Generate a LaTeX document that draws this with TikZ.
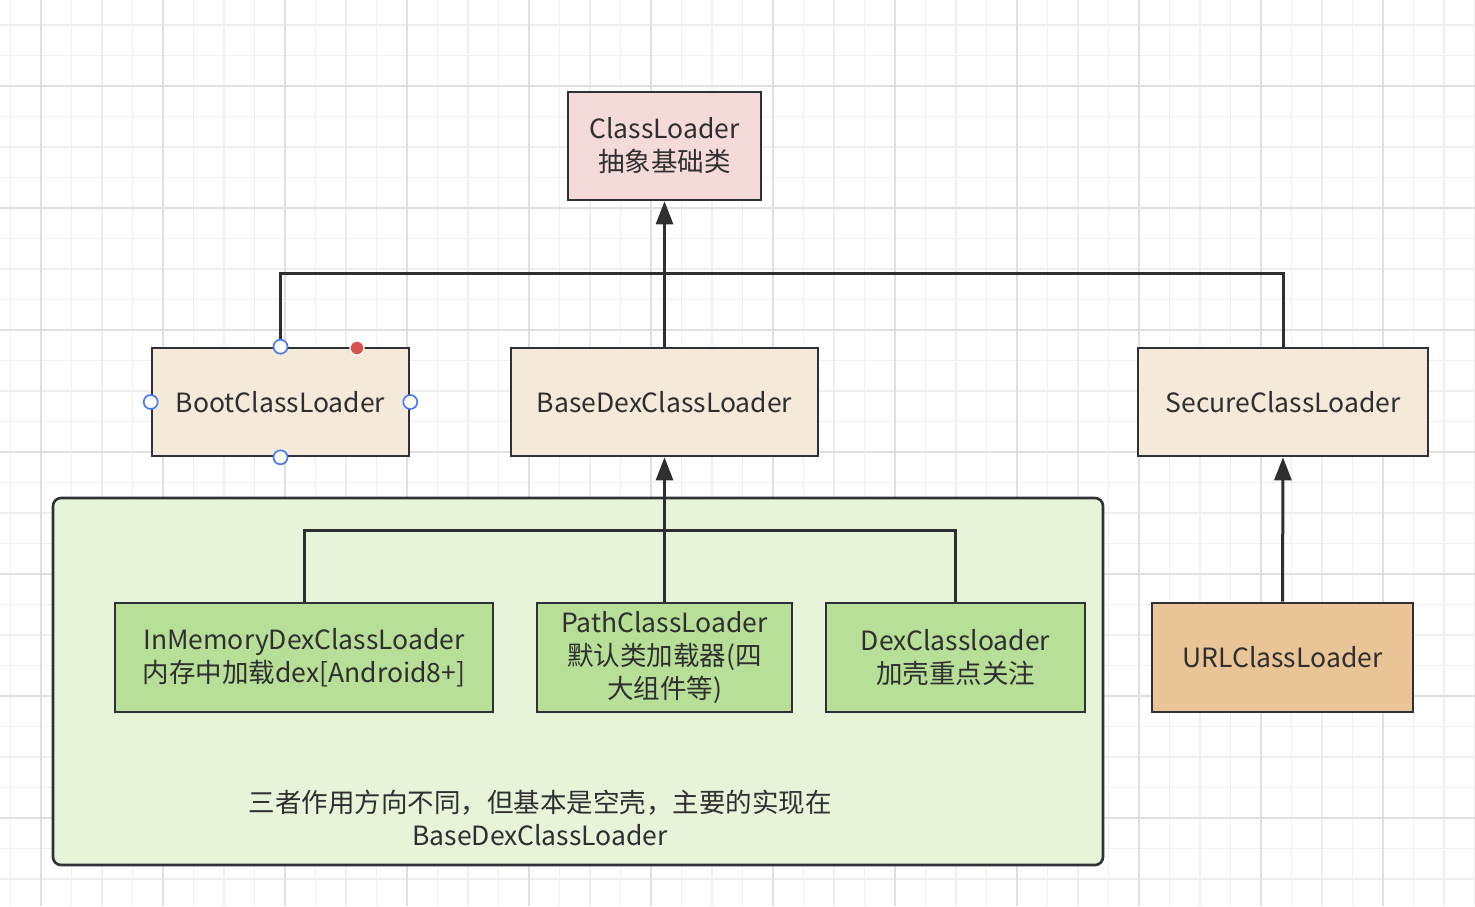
\documentclass[tikz,border=0pt]{standalone}
\usepackage{fontspec}
\setmainfont{Noto Sans CJK SC}
\usetikzlibrary{arrows.meta}
\definecolor{ink}{HTML}{2F2F2F}
\definecolor{edge}{HTML}{2E3236}
\definecolor{gridminor}{HTML}{EFEFEF}
\definecolor{gridmajor}{HTML}{E0E0E0}
\definecolor{pinkfill}{HTML}{F5DADA}
\definecolor{beigefill}{HTML}{F5E9DA}
\definecolor{panelfill}{HTML}{E7F4DA}
\definecolor{greenfill}{HTML}{B8DF98}
\definecolor{tanfill}{HTML}{E8C496}
\definecolor{handleblue}{HTML}{4A7BF0}
\definecolor{handlered}{HTML}{D9534F}
\tikzset{
  box/.style={draw=edge, line width=2.6pt, rectangle, inner sep=0pt, align=center,
    text=ink, font=\fontsize{26.5}{33}\selectfont},
  panel/.style={draw=edge, line width=2.6pt, rounded corners=8pt, fill=panelfill, inner sep=0pt},
  conn/.style={draw=ink, line width=3pt},
  inherit/.style={conn, -{Triangle[length=23pt,width=17pt]}},
  handle/.style={circle, draw=handleblue, fill=white, line width=1.7pt, minimum size=14pt, inner sep=0pt},
  reddot/.style={circle, draw=white, fill=handlered, line width=1.2pt, minimum size=14pt, inner sep=0pt},
  note/.style={align=center, text=ink, font=\fontsize{26.5}{33}\selectfont, inner sep=0pt}
}
\begin{document}
\begin{tikzpicture}[x=1pt, y=-1pt]
  \useasboundingbox (0,0) rectangle (1475,906);
  % background grid
  \foreach \gx in {10.5,41,...,1475} \draw[gridminor, line width=1.5pt] (\gx,0) -- (\gx,906);
  \foreach \gy in {25,55.5,...,906} \draw[gridminor, line width=1.5pt] (0,\gy) -- (1475,\gy);
  \foreach \gx in {41,163,...,1475} \draw[gridmajor, line width=1.9pt] (\gx,0) -- (\gx,906);
  \foreach \gy in {86,208,...,906} \draw[gridmajor, line width=1.9pt] (0,\gy) -- (1475,\gy);

  % panel holding the three dex loaders
  \node[panel, minimum width=1050pt, minimum height=367pt] (panel) at (578,681.5) {};

  % class nodes
  \node[box, fill=pinkfill, minimum width=193pt, minimum height=108pt] (classloader) at (664.5,146) {ClassLoader\\抽象基础类};
  \node[box, fill=beigefill, minimum width=257pt, minimum height=108pt] (boot) at (280.5,402) {BootClassLoader};
  \node[box, fill=beigefill, minimum width=307pt, minimum height=108pt] (basedex) at (664.5,402) {BaseDexClassLoader};
  \node[box, fill=beigefill, minimum width=290pt, minimum height=108pt] (secure) at (1283,402) {SecureClassLoader};
  \node[box, fill=greenfill, minimum width=378pt, minimum height=109pt] (inmem) at (304,657.5) {InMemoryDexClassLoader\\内存中加载dex[Android8+]};
  \node[box, fill=greenfill, minimum width=255pt, minimum height=109pt] (path) at (664.5,657.5) {PathClassLoader\\默认类加载器(四\\大组件等)};
  \node[box, fill=greenfill, minimum width=259pt, minimum height=109pt] (dex) at (955.5,657.5) {DexClassloader\\加壳重点关注};
  \node[box, fill=tanfill, minimum width=261pt, minimum height=109pt] (url) at (1282.5,657.5) {URLClassLoader};

  \node[note] (remark) at (540,818) {三者作用方向不同，但基本是空壳，主要的实现在\\BaseDexClassLoader};

  % junctions of the inheritance trees
  \coordinate (topjoin) at (664.5,273);
  \coordinate (dexjoin) at (664.5,530);

  % inheritance connectors
  \draw[conn] (boot.north) |- (topjoin);
  \draw[conn] (secure.north) |- (topjoin);
  \draw[inherit] (basedex.north) -- (classloader.south);
  \draw[conn] (inmem.north) |- (dexjoin);
  \draw[conn] (dex.north) |- (dexjoin);
  \draw[inherit] (path.north) -- (basedex.south);
  \draw[inherit] (url.north) -- (secure.south);

  % selection handles on BootClassLoader
  \node[handle] (hn) at (boot.north) {};
  \node[handle] (hs) at (boot.south) {};
  \node[handle] (hw) at (boot.west) {};
  \node[handle] (he) at (boot.east) {};
  \node[reddot] (hr) at (357,348) {};
\end{tikzpicture}
\end{document}
